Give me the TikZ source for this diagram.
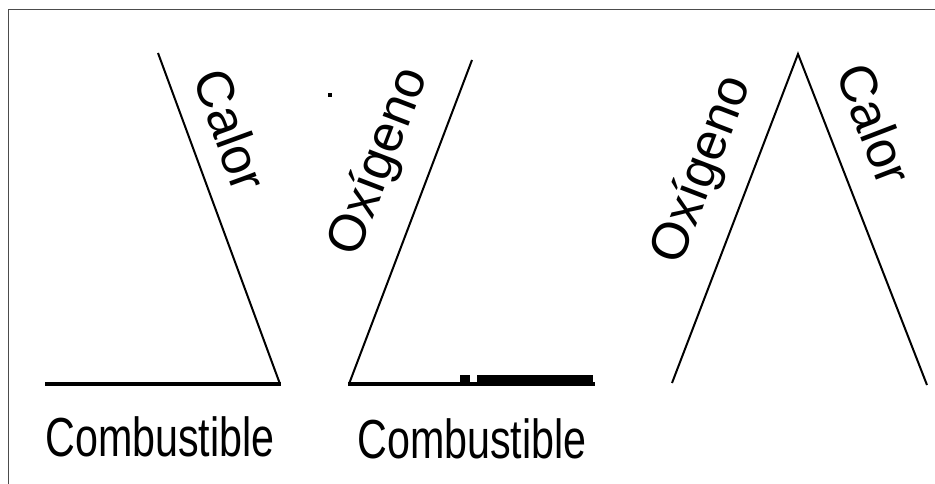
\documentclass[tikz,border=0pt]{standalone}
\usepackage{fontspec}
\setmainfont{Liberation Sans}
\begin{document}
\begin{tikzpicture}[x=1pt,y=-1pt,
  frameline/.style={line width=1pt, draw=black!70},
  slant/.style={line width=2pt},
  fuel/.style={line width=4pt},
  lbl/.style={font=\fontsize{52}{52}\selectfont, inner sep=0pt},
  fuellbl/.style={font=\fontsize{55}{55}\selectfont, inner sep=0pt, xscale=0.75}]
\useasboundingbox (0,0) rectangle (935,484);
% frame
\coordinate (fbl) at (8,484);
\coordinate (ftl) at (8,9.5);
\coordinate (ftr) at (935,9.5);
\draw[frameline] (fbl) -- (ftl) -- (ftr);
% left piece
\coordinate (lt) at (158,53);
\coordinate (lc) at (280,384);
\coordinate (ll) at (45,384);
\draw[slant] (lt) -- (lc);
\draw[fuel] (ll) -- ([xshift=1pt]lc);
\node[lbl, rotate=-70] (calorL) at (231,130) {Calor};
\node[fuellbl] (combL) at (160,437) {Combustible};
% middle piece
\coordinate (mt) at (472,60);
\coordinate (mc) at (349,384);
\coordinate (mr) at (595,384);
\draw[slant] (mt) -- (mc);
\draw[fuel] ([xshift=-1pt]mc) -- (mr);
\fill (460,375) rectangle (470,384);
\fill (477,375) rectangle (593,386);
\fill (328,93) rectangle (332,97);
\node[lbl, rotate=69] (oxM) at (380,162) {Oxígeno};
\node[fuellbl] (combM) at (472,439) {Combustible};
% right piece
\coordinate (rl) at (672,383);
\coordinate (ra) at (798,54);
\coordinate (rr) at (927,385);
\draw[slant] (rl) -- (ra) -- (rr);
\node[lbl, rotate=69] (oxR) at (703,170) {Oxígeno};
\node[lbl, rotate=-69] (calorR) at (875,124) {Calor};
\end{tikzpicture}
\end{document}
